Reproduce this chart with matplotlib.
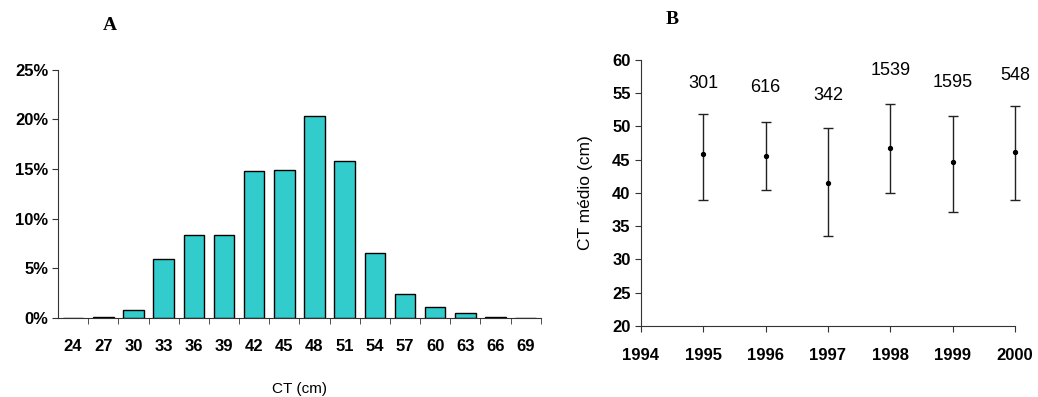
import matplotlib
matplotlib.use("Agg")
import matplotlib.pyplot as plt
import numpy as np

# panel A: length frequency distribution
classes = ['24', '27', '30', '33', '36', '39', '42', '45', '48', '51', '54', '57', '60', '63', '66', '69']
freq = [0.0, 0.1, 0.8, 5.9, 8.4, 8.4, 14.8, 14.9, 20.4, 15.8, 6.5, 2.4, 1.1, 0.5, 0.1, 0.0]

# panel B: mean CT per year with range and sample size
years = [1995, 1996, 1997, 1998, 1999, 2000]
ct_mean = [45.8, 45.6, 41.5, 46.8, 44.7, 46.1]
ct_low = [39.0, 40.4, 33.6, 40.0, 37.2, 39.0]
ct_high = [51.9, 50.6, 49.7, 53.4, 51.6, 53.0]
n_labels = ['301', '616', '342', '1539', '1595', '548']
n_ypos = [56.5, 55.9, 54.6, 58.4, 56.6, 57.7]

plt.rcParams['font.family'] = ['Liberation Sans', 'DejaVu Sans']

fig = plt.figure(figsize=(10.38, 3.97), dpi=100)

# ---- A ----
ax1 = fig.add_axes([0.0559, 0.199, 0.465, 0.625])
x = np.arange(len(classes))
ax1.bar(x, freq, width=0.68, color='#33CCCC', edgecolor='black', linewidth=1.0)
ax1.set_xlim(-0.5, len(classes) - 0.5)
ax1.set_ylim(0, 25)
ax1.set_yticks([0, 5, 10, 15, 20, 25])
ax1.set_yticklabels(['0%', '5%', '10%', '15%', '20%', '25%'], fontsize=12, fontweight='bold')
ax1.set_xticks(x)
ax1.set_xticklabels(classes, fontsize=12, fontweight='bold')
ax1.tick_params(axis='x', length=0, pad=15)
ax1.set_xticks(np.arange(0.5, len(classes) - 0.4, 1), minor=True)
ax1.tick_params(axis='x', which='minor', length=4, direction='out', color='#333333')
ax1.tick_params(axis='y', length=4, direction='out', color='#333333', pad=3)
for s in ['top', 'right']:
    ax1.spines[s].set_visible(False)
for s in ['left', 'bottom']:
    ax1.spines[s].set_color('#333333')
ax1.set_xlabel('CT (cm)', fontsize=11, labelpad=20)
fig.text(0.106, 0.935, 'A', fontsize=14, fontweight='bold', family='Liberation Serif',
         ha='center', va='center')

# ---- B ----
ax2 = fig.add_axes([0.6175, 0.179, 0.3603, 0.670])
mean = np.array(ct_mean)
yerr = [mean - np.array(ct_low), np.array(ct_high) - mean]
eb = ax2.errorbar(years, ct_mean, yerr=yerr, fmt='o', color='black', ecolor='#222222',
                  markersize=2.8, elinewidth=1.0, capsize=3.5, capthick=1.0)
for art in [eb.lines[0]] + list(eb.lines[1]) + list(eb.lines[2]):
    art.set_clip_on(False)
for yr, lab, yp in zip(years, n_labels, n_ypos):
    ax2.text(yr, yp, lab, ha='center', va='center', fontsize=13)
ax2.set_xlim(1994, 2000)
ax2.set_ylim(20, 60)
ax2.set_xticks(range(1994, 2001))
ax2.set_xticklabels([str(v) for v in range(1994, 2001)], fontsize=12, fontweight='bold')
ax2.set_yticks(range(20, 61, 5))
ax2.set_yticklabels([str(v) for v in range(20, 61, 5)], fontsize=12, fontweight='bold')
ax2.tick_params(axis='both', length=4, direction='out', color='#333333')
ax2.tick_params(axis='x', pad=12)
for s in ['top', 'right']:
    ax2.spines[s].set_visible(False)
for s in ['left', 'bottom']:
    ax2.spines[s].set_color('#333333')
ax2.set_ylabel('CT médio (cm)', fontsize=12.5, labelpad=14)
fig.text(0.6475, 0.95, 'B', fontsize=14, fontweight='bold', family='Liberation Serif',
         ha='center', va='center')

fig.savefig('out.png', dpi=100)
